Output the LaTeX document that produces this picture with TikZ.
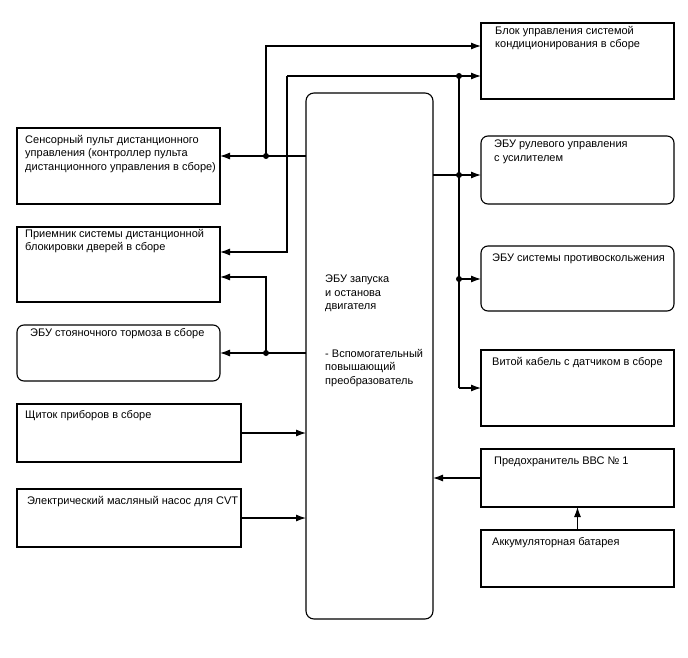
\documentclass[tikz,border=0pt]{standalone}
\usepackage{fontspec}
\setmainfont{Liberation Sans}
\usetikzlibrary{arrows.meta,positioning}

\begin{document}
\begin{tikzpicture}[x=1pt,y=-1pt,>={Latex[length=10pt,width=7pt]},
  box/.style={draw,line width=1.1pt,anchor=north west,inner sep=0pt,outer sep=0pt},
  rbox/.style={box,rounded corners=7pt},
  txt/.style={anchor=north west,inner sep=0pt,align=left,font=\fontsize{11}{13.5}\selectfont},
  wire/.style={line width=1.1pt}]
  \useasboundingbox (0,0) rectangle (688,658);
  % left column
  \node[box,minimum width=203pt,minimum height=76pt] (sensor) at (17,128) {};
  \node[box,minimum width=203pt,minimum height=75pt] (rcv) at (17,227) {};
  \node[rbox,minimum width=203pt,minimum height=56pt] (park) at (17,325) {};
  \node[box,minimum width=224pt,minimum height=58pt] (dash) at (17,404) {};
  \node[box,minimum width=224pt,minimum height=58pt] (pump) at (17,489) {};
  % middle
  \node[rbox,rounded corners=8pt,minimum width=127pt,minimum height=526pt] (ecu) at (306,93) {};
  % right column
  \node[box,minimum width=193pt,minimum height=76pt] (ac) at (481,23) {};
  \node[rbox,minimum width=193pt,minimum height=68pt] (steer) at (481,136) {};
  \node[rbox,minimum width=193pt,minimum height=65pt] (skid) at (481,246) {};
  \node[box,minimum width=193pt,minimum height=76pt] (cable) at (481,350) {};
  \node[box,minimum width=193pt,minimum height=58pt] (fuse) at (481,449) {};
  \node[box,minimum width=193pt,minimum height=57pt] (bat) at (481,530) {};

  % texts
  \node[txt,below right=7pt and 8pt of sensor.north west] (sensorT) {Сенсорный пульт дистанционного\\управления (контроллер пульта\\дистанционного управления в сборе)};
  \node[txt,below right=2pt and 8pt of rcv.north west] (rcvT) {Приемник системы дистанционной\\блокировки дверей в сборе};
  \node[txt,below right=3pt and 13pt of park.north west] (parkT) {ЭБУ стояночного тормоза в сборе};
  \node[txt,below right=6pt and 8pt of dash.north west] (dashT) {Щиток приборов в сборе};
  \node[txt,below right=7pt and 10pt of pump.north west] (pumpT) {Электрический масляный насос для CVT};
  \node[txt,below right=182pt and 19pt of ecu.north west] (ecuT) {ЭБУ запуска\\и останова\\двигателя\\[34pt]- Вспомогательный\\повышающий\\преобразователь};
  \node[txt,below right=3pt and 14pt of ac.north west] (acT) {Блок управления системой\\кондиционирования в сборе};
  \node[txt,below right=4pt and 13pt of steer.north west] (steerT) {ЭБУ рулевого управления\\с усилителем};
  \node[txt,below right=8pt and 11pt of skid.north west] (skidT) {ЭБУ системы противоскольжения};
  \node[txt,below right=7pt and 11pt of cable.north west] (cableT) {Витой кабель с датчиком в сборе};
  \node[txt,below right=8pt and 13pt of fuse.north west] (fuseT) {Предохранитель ВВС № 1};
  \node[txt,below right=7pt and 11pt of bat.north west] (batT) {Аккумуляторная батарея};

  % junctions and bends
  \coordinate (jA) at (266,156);
  \coordinate (cA) at (266,46);
  \coordinate (cB) at (287,76);
  \coordinate (cC) at (287,252);
  \coordinate (jB) at (459,76);
  \coordinate (jC) at (459,175);
  \coordinate (jD) at (459,279);
  \coordinate (cD) at (459,388);
  \coordinate (jE) at (266,353);
  \coordinate (cE) at (266,277);

  % connectors
  \draw[wire,->] (ecu.west |- jA) -- (sensor.east |- jA);
  \draw[wire,->] (jA) -- (cA) -- (ac.west |- cA);
  \draw[wire,->] (cB) -- (cC) -- (rcv.east |- cC);
  \draw[wire,->] (cB) -- (ac.west |- cB);
  \draw[wire] (jB) -- (cD);
  \draw[wire,->] (ecu.east |- jC) -- (steer.west |- jC);
  \draw[wire,->] (jD) -- (skid.west |- jD);
  \draw[wire,->] (cD) -- (cable.west |- cD);
  \draw[wire,->] (ecu.west |- jE) -- (park.east |- jE);
  \draw[wire,->] (jE) -- (cE) -- (rcv.east |- cE);
  \draw[wire,->] (dash.east) -- (ecu.west |- dash.east);
  \draw[wire,->] (pump.east) -- (ecu.west |- pump.east);
  \draw[wire,->] (fuse.west) -- (ecu.east |- fuse.west);
  \draw[wire,->] (bat.north) -- (fuse.south);
  \foreach \j in {jA,jB,jC,jD,jE}
    \fill (\j) circle (3pt);
\end{tikzpicture}
\end{document}
